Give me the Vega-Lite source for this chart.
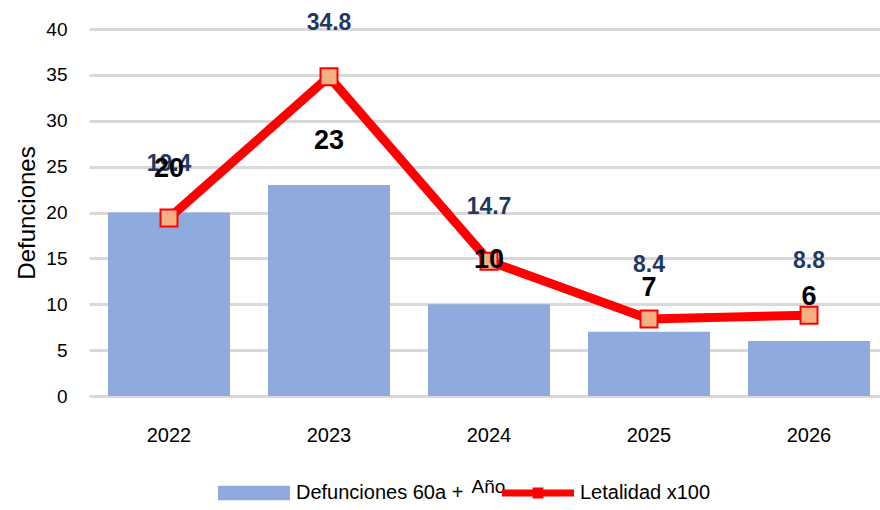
{
  "$schema": "https://vega.github.io/schema/vega-lite/v6.json",
  "width": 791,
  "height": 367,
  "autosize": {"type": "none"},
  "padding": {"left": 89, "top": 29, "right": 0, "bottom": 114},
  "background": "white",
  "config": {"view": {"stroke": null}},
  "data": {
    "values": [
      {"anio": "2022", "defunciones": 20, "letalidad": 19.4, "serie": "Defunciones 60a +"},
      {"anio": "2023", "defunciones": 23, "letalidad": 34.8, "serie": "Defunciones 60a +"},
      {"anio": "2024", "defunciones": 10, "letalidad": 14.7, "serie": "Defunciones 60a +"},
      {"anio": "2025", "defunciones": 7, "letalidad": 8.4, "serie": "Defunciones 60a +"},
      {"anio": "2026", "defunciones": 6, "letalidad": 8.8, "serie": "Defunciones 60a +"}
    ]
  },
  "encoding": {
    "x": {
      "field": "anio",
      "type": "ordinal",
      "scale": {"range": [0, 800], "paddingInner": 0.2375, "paddingOuter": 0.11875},
      "axis": {
        "title": "Año",
        "labelAngle": 0,
        "domain": false,
        "ticks": false,
        "labelPadding": 29,
        "labelFont": "Liberation Sans",
        "labelFontSize": 20,
        "labelColor": "black",
        "titleFont": "Liberation Sans",
        "titleFontSize": 19,
        "titleFontWeight": "normal",
        "titleColor": "black",
        "titleX": 399,
        "titleY": 90,
        "titleBaseline": "middle",
        "titleAnchor": "middle"
      }
    }
  },
  "layer": [
    {
      "mark": {"type": "bar"},
      "encoding": {
        "y": {
          "field": "defunciones",
          "type": "quantitative",
          "scale": {"domain": [0, 40], "nice": false},
          "axis": {
            "title": "Defunciones",
            "values": [0, 5, 10, 15, 20, 25, 30, 35, 40],
            "domain": false,
            "ticks": false,
            "grid": true,
            "gridColor": "#d9d9d9",
            "gridWidth": 3,
            "labelPadding": 22,
            "labelFont": "Liberation Sans",
            "labelFontSize": 19,
            "labelColor": "black",
            "titleFont": "Liberation Sans",
            "titleFontSize": 24,
            "titleFontWeight": "normal",
            "titleColor": "black",
            "titlePadding": 6
          }
        },
        "color": {
          "field": "serie",
          "type": "nominal",
          "scale": {"domain": ["Defunciones 60a +", "Letalidad x100"], "range": ["#8faadc", "#ff0000"]},
          "legend": {
            "orient": "none",
            "legendX": 129,
            "legendY": 428,
            "direction": "horizontal",
            "title": null,
            "padding": 0,
            "symbolType": "M-1,-0.2H1V0.2H-1Z",
            "symbolSize": 5184,
            "symbolStrokeWidth": 0,
            "symbolOpacity": 1,
            "labelFont": "Liberation Sans",
            "labelFontSize": 20,
            "labelColor": "black",
            "labelOffset": 6,
            "labelLimit": 300,
            "columnPadding": 38,
            "encode": {
              "symbols": {
                "update": {
                  "shape": {"signal": "datum.value === 'Letalidad x100' ? 'M-1,-0.1H1V0.1H-1Z M-0.15,-0.15H0.15V0.15H-0.15Z' : 'M-1,-0.2H1V0.2H-1Z'"}
                }
              }
            }
          }
        }
      }
    },
    {
      "mark": {"type": "line", "color": "#ff0000", "strokeWidth": 9, "strokeJoin": "miter"},
      "encoding": {
        "y": {"field": "letalidad", "type": "quantitative"}
      }
    },
    {
      "mark": {"type": "point", "shape": "square", "filled": true, "size": 289, "fill": "#f4b183", "stroke": "#ff0000", "strokeWidth": 2, "opacity": 1},
      "encoding": {
        "y": {"field": "letalidad", "type": "quantitative"}
      }
    },
    {
      "mark": {"type": "text", "dy": -54, "baseline": "middle", "font": "Liberation Sans", "fontSize": 23, "fontWeight": "bold", "color": "#1f3864"},
      "encoding": {
        "y": {"field": "letalidad", "type": "quantitative"},
        "text": {"field": "letalidad", "type": "quantitative", "format": ".1f"}
      }
    },
    {
      "mark": {"type": "text", "dy": -44, "baseline": "middle", "font": "Liberation Sans", "fontSize": 27, "fontWeight": "bold", "color": "black"},
      "encoding": {
        "y": {"field": "defunciones", "type": "quantitative"},
        "text": {"field": "defunciones", "type": "quantitative"}
      }
    }
  ]
}
